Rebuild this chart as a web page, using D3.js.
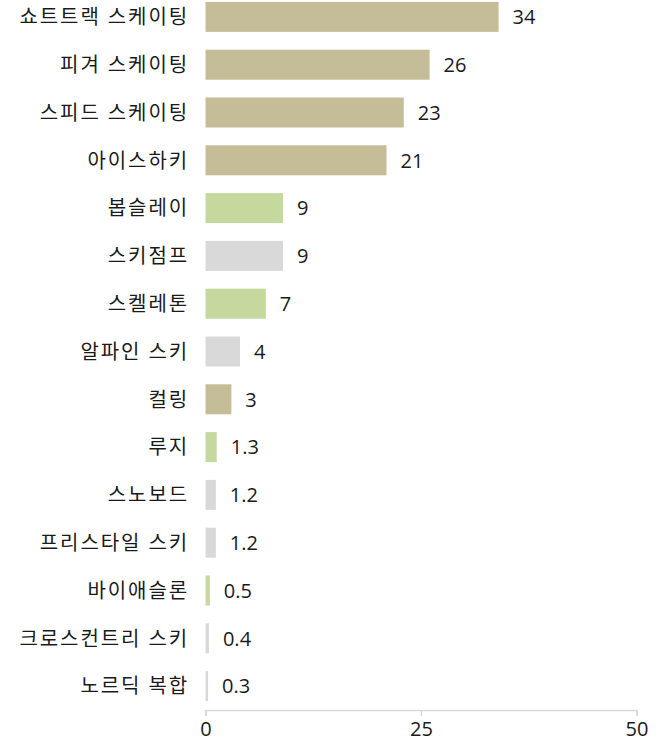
<!DOCTYPE html>
<html>
<head>
<meta charset="utf-8">
<script src="https://cdn.jsdelivr.net/npm/d3@7"></script>
<style>
  body { margin: 0; background: #fff; }
  svg text { font-family: "Open Sans", "Noto Sans CJK KR", sans-serif; }
</style>
</head>
<body>
<div id="chart"></div>
<script>
const SPORTS = ['쇼트트랙 스케이팅', '피겨 스케이팅', '스피드 스케이팅', '아이스하키', '봅슬레이', '스키점프',
  '스켈레톤', '알파인 스키', '컬링', '루지', '스노보드', '프리스타일 스키', '바이애슬론', '크로스컨트리 스키', '노르딕 복합'];
const VALUES = [34, 26, 23, 21, 9, 9, 7, 4, 3, 1.3, 1.2, 1.2, 0.5, 0.4, 0.3];
const GROUPS = ['ice', 'ice', 'ice', 'ice', 'sliding', 'snow', 'sliding', 'snow', 'ice', 'sliding', 'snow', 'snow', 'sliding', 'snow', 'snow'];
const X_TICKS = [0, 25, 50];

const GROUP_COLORS = { ice: '#c5bd97', sliding: '#c5d89d', snow: '#d9d9d9' };
const WIDTH = 660;
const HEIGHT = 748;

const rows = SPORTS.map((s, i) => ({ sport: s, value: VALUES[i], group: GROUPS[i] }));

const x = d3.scaleLinear().domain([0, 50]).range([205.5, 636.5]);
const y = d3.scaleBand().domain(SPORTS).range([-7, 710]).paddingInner(0.372).paddingOuter(0.186);

const svg = d3.select('#chart').append('svg')
  .attr('width', WIDTH)
  .attr('height', HEIGHT);

svg.append('g')
  .selectAll('rect')
  .data(rows)
  .join('rect')
  .attr('x', x(0))
  .attr('y', (d) => y(d.sport))
  .attr('width', (d) => x(d.value) - x(0))
  .attr('height', y.bandwidth())
  .attr('fill', (d) => GROUP_COLORS[d.group]);

// value labels
svg.append('g')
  .selectAll('text')
  .data(rows)
  .join('text')
  .attr('x', (d) => x(d.value) + 14)
  .attr('y', (d) => y(d.sport) + y.bandwidth() / 2)
  .attr('dy', '0.36em')
  .attr('font-size', '20px')
  .attr('fill', '#1a1a1a')
  .text((d) => d.value);

// category labels
svg.append('g')
  .selectAll('text')
  .data(rows)
  .join('text')
  .attr('x', 189)
  .attr('y', (d) => y(d.sport) + y.bandwidth() / 2)
  .attr('dy', '0.36em')
  .attr('text-anchor', 'end')
  .attr('font-size', '20px')
  .attr('letter-spacing', '1.9px')
  .attr('fill', '#1a1a1a')
  .text((d) => d.sport);

const xAxis = d3.axisBottom(x).tickValues(X_TICKS).tickSize(6).tickSizeOuter(6).tickPadding(6);
const ax = svg.append('g')
  .attr('transform', 'translate(0,710)')
  .call(xAxis);
ax.select('.domain').attr('stroke', '#d9d9d9').attr('stroke-width', 1.5);
ax.selectAll('line').attr('stroke', '#d9d9d9').attr('stroke-width', 1.5);
ax.selectAll('text')
  .attr('font-size', '20px')
  .attr('fill', '#1a1a1a');
</script>
</body>
</html>
